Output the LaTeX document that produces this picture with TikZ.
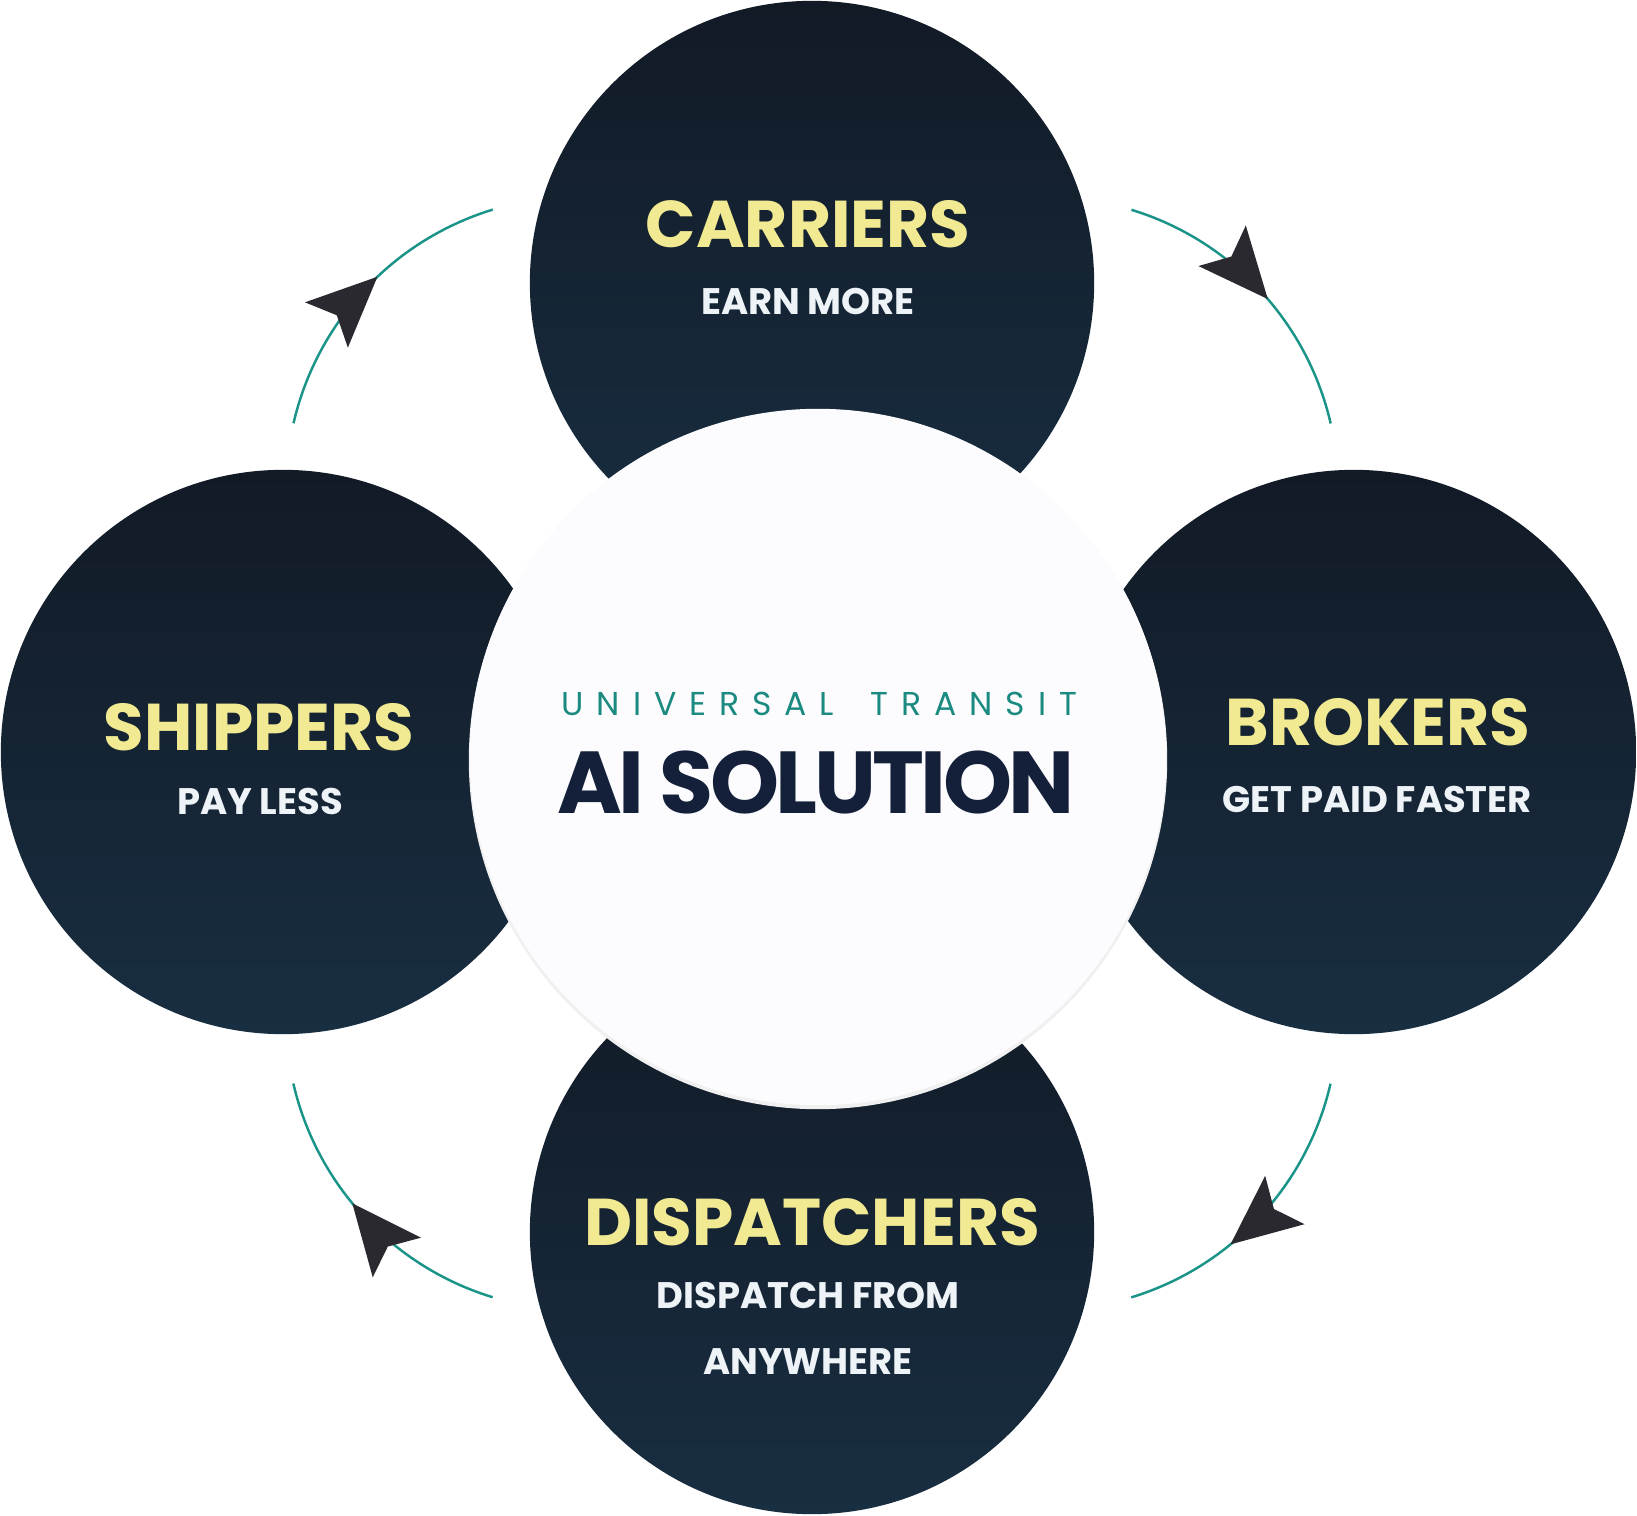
\documentclass[tikz,border=0pt]{standalone}
\usepackage{fontspec}
\setmainfont{Poppins}
\newfontfamily\spaced{Poppins}[LetterSpace=39]
\newfontfamily\tight{Poppins}[LetterSpace=-4]
\usetikzlibrary{arrows.meta,decorations.markings}

\definecolor{navytop}{HTML}{121A26}
\definecolor{navybot}{HTML}{182E41}
\definecolor{pale}{HTML}{F2EA92}
\definecolor{subwhite}{HTML}{EEF3F8}
\definecolor{ink}{HTML}{14203A}
\definecolor{ringteal}{HTML}{1A9488}
\definecolor{brandteal}{HTML}{1B8A80}
\definecolor{tipdark}{HTML}{2A292F}
\definecolor{snow}{HTML}{FCFCFE}

\tikzset{
  hub/.style={circle,minimum size=5.64cm,inner sep=0pt,outer sep=0pt,
    top color=navytop,bottom color=navybot,draw=none},
  core/.style={circle,minimum size=6.96cm,inner sep=0pt,outer sep=0pt,fill=snow},
  title/.style={anchor=base,inner sep=0pt,text=pale,
    font=\fontsize{18.8}{22}\selectfont\bfseries},
  sub/.style={anchor=base,inner sep=0pt,text=subwhite,
    font=\fontsize{10.5}{12}\selectfont\bfseries},
  brand/.style={anchor=base west,inner sep=0pt,text=brandteal,
    font=\spaced\fontsize{9.4}{11}\selectfont},
  flow/.style={draw=ringteal,line width=0.7pt,
    decoration={markings,mark=at position #1 with
      {\arrow{Stealth[length=0.7cm,width=0.62cm,inset=0.14cm,color=tipdark]}}},
    postaction={decorate}}
}

\begin{document}
\begin{tikzpicture}[x=0.01cm,y=-0.01cm]
\useasboundingbox (0,0) rectangle (1637,1516);

% four groups
\path
(812,283) node[hub](carriers){}
(283,752) node[hub](shippers){}
(1354,752) node[hub](brokers){}
(812,1232) node[hub](dispatchers){}
;

% centre disc with a faint shadow
\fill[black!6] (818,760) circle[radius=3.49cm];
\node[core] (core) at (818,757) {};

% labels
\path
(808,248) node[title](carriers-t){CARRIERS}
(808,315) node[sub](carriers-s){EARN MORE}
(259,750) node[title](shippers-t){SHIPPERS}
(260,814) node[sub](shippers-s){PAY LESS}
(1378,745) node[title](brokers-t){BROKERS}
(1377,812) node[sub](brokers-s){GET PAID FASTER}
(812,1245) node[title](dispatchers-t){DISPATCHERS}
(808,1308) node[sub](dispatchers-s){DISPATCH FROM}
(808,1374) node[sub](dispatchers-s2){ANYWHERE}
(561,715) node[brand](brand-a){UNIVERSAL}
(870,715) node[brand](brand-b){TRANSIT}
(816,813) node[anchor=base,inner sep=0pt,text=ink,
  font=\tight\fontsize{25}{30}\selectfont\bfseries](solution){AI SOLUTION}
;

% cycle arrows
\coordinate (tl) at (293.5,423.3);
\coordinate (tr) at (1131.4,209.8);
\coordinate (br) at (1330.5,1083.7);
\coordinate (bl) at (492.6,1297.2);
\draw[flow=0.56] (tl) arc[start angle=167,end angle=107,radius=2.92cm];
\draw[flow=0.54] (tr) arc[start angle=73,end angle=13,radius=2.92cm];
\draw[flow=0.63] (br) arc[start angle=-13,end angle=-73,radius=2.92cm];
\draw[flow=0.56] (bl) arc[start angle=-107,end angle=-167,radius=2.92cm];
\end{tikzpicture}
\end{document}
